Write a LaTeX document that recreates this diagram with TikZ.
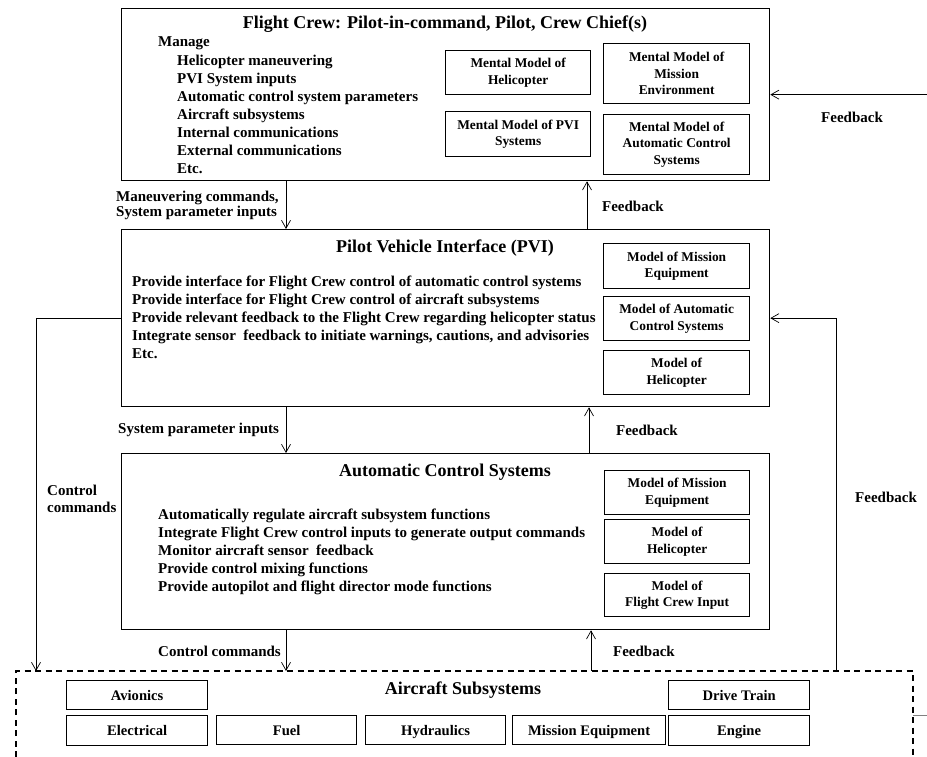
\documentclass[tikz,border=0pt]{standalone}
\usepackage{fontspec}
\setmainfont{Liberation Serif}
\usetikzlibrary{arrows.meta,positioning}

\begin{document}
\begin{tikzpicture}[x=1pt,y=-1pt,
  every node/.style={font=\bfseries},
  mainbox/.style={draw, line width=1.3pt, anchor=north west, inner sep=0pt},
  modelbox/.style={draw, line width=1.3pt, anchor=north west, inner sep=0pt,
    align=center, font=\bfseries\fontsize{13.4}{16.5}\selectfont},
  subbox/.style={draw, line width=1.3pt, anchor=north west, inner sep=0pt,
    text height=10pt, text depth=0pt, font=\bfseries\fontsize{14.6}{17}\selectfont},
  titletext/.style={anchor=base, inner sep=0pt, font=\bfseries\fontsize{18}{21}\selectfont},
  txt/.style={anchor=base west, inner sep=0pt, font=\bfseries\fontsize{15}{18}\selectfont},
  fb/.style={inner sep=0pt, font=\bfseries\fontsize{15}{18}\selectfont},
  conn/.style={line width=0.7pt, -{Straight Barb[length=8pt,width=9pt]}},
  dashbox/.style={line width=1.2pt, dash pattern=on 6pt off 4.5pt}
]
  \useasboundingbox (0,0) rectangle (927,757);

  % flight crew
  \node[mainbox, minimum width=648, minimum height=172] (crew) at (121,8) {};
  \node[titletext] (crewtitle) at (445,29) {Flight Crew: Pilot-in-command, Pilot, Crew Chief(s)};
  \node[txt] (manage) at (158,47) {Manage};
  \foreach \t [count=\i from 0] in {Helicopter maneuvering, PVI System inputs,
      Automatic control system parameters, Aircraft subsystems,
      Internal communications, External communications, Etc.}
    \node[txt] (crewitem\i) at (177,66+18*\i) {\t};
  \node[modelbox, minimum width=145, minimum height=44] (mmheli) at (445,50) {Mental Model of\\Helicopter};
  \node[modelbox, minimum width=145, minimum height=45] (mmpvi) at (445,111) {Mental Model of PVI\\Systems};
  \node[modelbox, minimum width=146, minimum height=60] (mmenv) at (603,43) {Mental Model of\\Mission\\Environment};
  \node[modelbox, minimum width=146, minimum height=60] (mmacs) at (603,114) {Mental Model of\\Automatic Control\\Systems};

  % pilot vehicle interface
  \node[mainbox, minimum width=648, minimum height=177] (pvi) at (121,229) {};
  \node[titletext] (pvititle) at (445,252) {Pilot Vehicle Interface (PVI)};
  \foreach \t [count=\i from 0] in {Provide interface for Flight Crew control of automatic control systems,
      Provide interface for Flight Crew control of aircraft subsystems,
      Provide relevant feedback to the Flight Crew regarding helicopter status,
      {Integrate sensor\ \ feedback to initiate warnings, cautions, and advisories}, Etc.}
    \node[txt] (pviitem\i) at (132,286+18*\i) {\t};
  \node[modelbox, minimum width=146, minimum height=45] (pvimission) at (603,243) {Model of Mission\\Equipment};
  \node[modelbox, minimum width=146, minimum height=44] (pviacs) at (603,296) {Model of Automatic\\Control Systems};
  \node[modelbox, minimum width=146, minimum height=44] (pviheli) at (603,350) {Model of\\Helicopter};

  % automatic control systems
  \node[mainbox, minimum width=648, minimum height=176] (acs) at (121,453) {};
  \node[titletext] (acstitle) at (445,476) {Automatic Control Systems};
  \foreach \t [count=\i from 0] in {Automatically regulate aircraft subsystem functions,
      Integrate Flight Crew control inputs to generate output commands,
      Monitor aircraft sensor\ \ feedback, Provide control mixing functions,
      Provide autopilot and flight director mode functions}
    \node[txt] (acsitem\i) at (158,519+18*\i) {\t};
  \node[modelbox, minimum width=145, minimum height=44] (acsmission) at (604,470) {Model of Mission\\Equipment};
  \node[modelbox, minimum width=145, minimum height=44] (acsheli) at (604,519) {Model of\\Helicopter};
  \node[modelbox, minimum width=145, minimum height=43] (acscrew) at (604,573) {Model of\\Flight Crew Input};

  % aircraft subsystems
  \coordinate (subnw) at (16,671);
  \coordinate (subne) at (913,671);
  \draw[dashbox] (subnw |- 0,757) -- (subnw) -- (subne) -- (subne |- 0,757);
  \node[titletext] (substitle) at (463,694) {Aircraft Subsystems};
  \node[subbox, minimum width=141, minimum height=29] (avionics) at (66,680) {Avionics};
  \node[subbox, minimum width=141, minimum height=29] (drivetrain) at (668,680) {Drive Train};
  \node[subbox, minimum width=141, minimum height=30] (electrical) at (66,715) {Electrical};
  \node[subbox, minimum width=140, minimum height=29] (fuel) at (216,715) {Fuel};
  \node[subbox, minimum width=140, minimum height=29] (hydraulics) at (365,715) {Hydraulics};
  \node[subbox, minimum width=153, minimum height=29] (missioneq) at (512,715) {Mission Equipment};
  \node[subbox, minimum width=141, minimum height=30] (engine) at (668,715) {Engine};

  % connector columns
  \coordinate (down) at (286,0);
  \coordinate (upa) at (587,0);
  \coordinate (upb) at (589,0);
  \coordinate (upc) at (591,0);
  \coordinate (left) at (36,0);
  \coordinate (right) at (836,0);
  \coordinate (edge) at (927,0);
  \coordinate (outline) at (913,715);

  % downward commands
  \draw[conn] (down |- crew.south) -- (down |- pvi.north);
  \draw[conn] (down |- pvi.south) -- (down |- acs.north);
  \draw[conn] (down |- acs.south) -- (down |- subnw);
  \draw[conn] (pvi.west) -| (left |- subnw);
  % feedback
  \draw[conn] (upa |- pvi.north) -- (upa |- crew.south);
  \draw[conn] (upb |- acs.north) -- (upb |- pvi.south);
  \draw[conn] (upc |- subnw) -- (upc |- acs.south);
  \draw[conn] (right |- subnw) |- (pvi.east);
  \draw[conn] (edge |- crew.east) -- (crew.east);
  \draw[line width=0.7pt, gray] (outline) -- (outline -| edge);

  % labels
  \node[txt] (lblman) at (116,201) {Maneuvering commands,};
  \node[txt] (lblsys) at (116,217) {System parameter inputs};
  \node[txt] (lblsysb) at (118,433) {System parameter inputs};
  \node[txt] (lblctla) at (47,495) {Control};
  \node[txt] (lblctlb) at (47,512) {commands};
  \node[txt] (lblctlc) at (158,656) {Control commands};
  \node[fb] (fbtop) at (852,117) {Feedback};
  \node[fb] (fbcrew) at (633,206) {Feedback};
  \node[fb] (fbpvi) at (647,430) {Feedback};
  \node[fb] (fbright) at (886,497) {Feedback};
  \node[fb] (fbacs) at (644,651) {Feedback};
\end{tikzpicture}
\end{document}
